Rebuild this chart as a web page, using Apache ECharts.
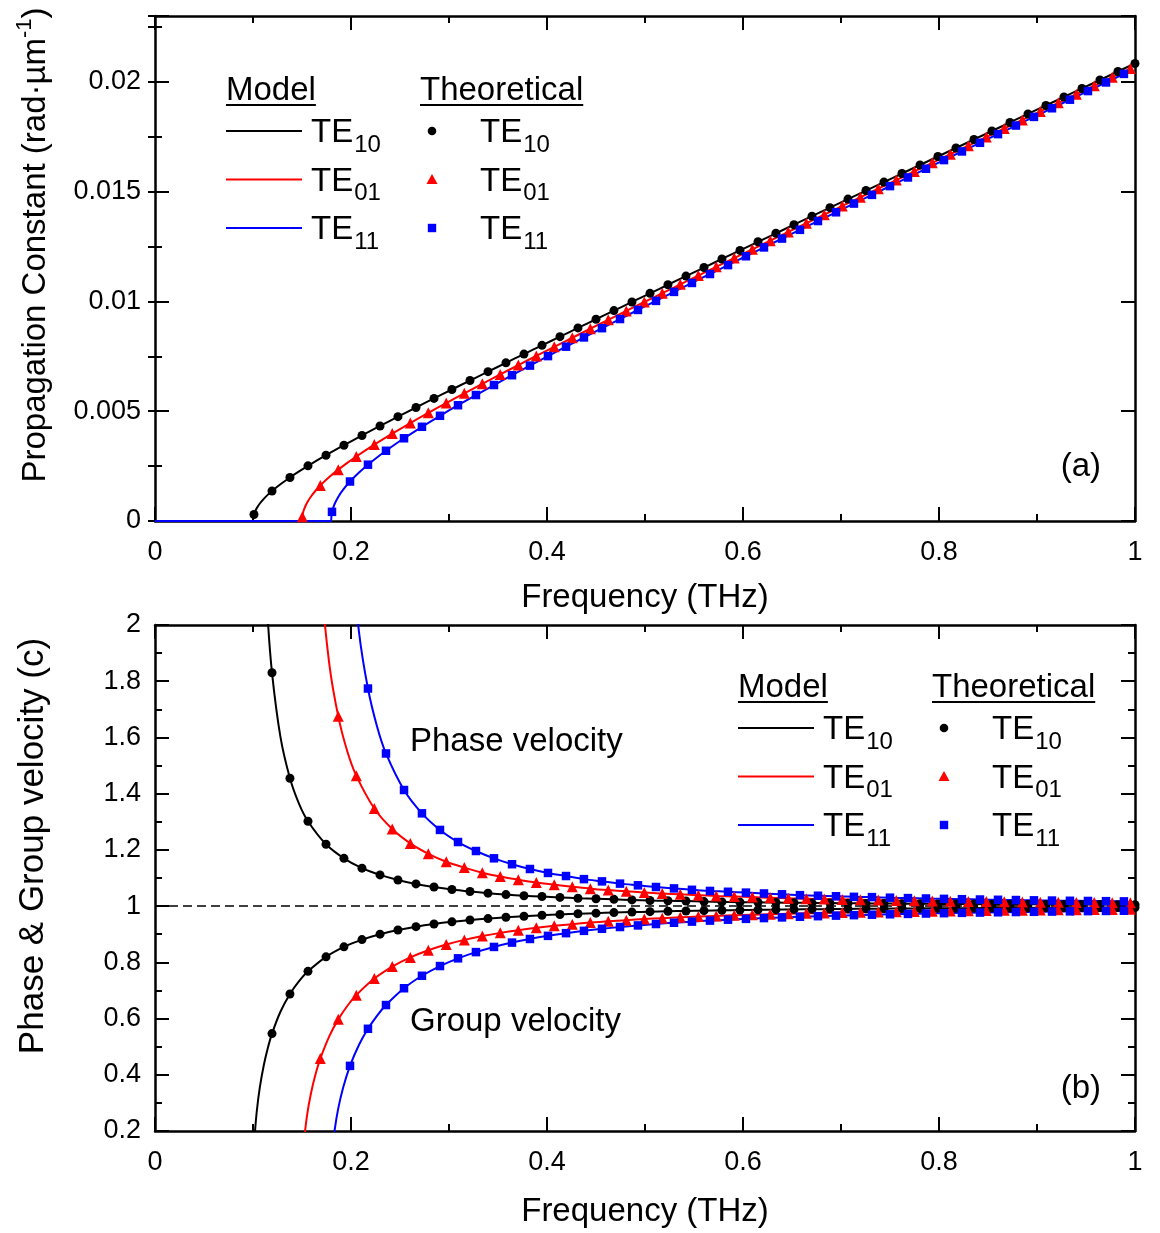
<!DOCTYPE html>
<html><head><meta charset="utf-8">
<script src="https://cdn.jsdelivr.net/npm/echarts@6/dist/echarts.min.js"></script>
<style>html,body{margin:0;padding:0;background:#fff}#c{width:1160px;height:1233px}</style>
</head><body><div id="c"></div>
<script>
// ---------------- DATA ----------------
// Theoretical points (markers)
const te10Freq = [0.1010,0.1194,0.1377,0.1561,0.1745,0.1928,0.2112,0.2296,0.2479,0.2663,0.2847,0.3030,0.3214,0.3398,0.3581,0.3765,0.3949,0.4132,0.4316,0.4500,0.4683,0.4867,0.5051,0.5234,0.5418,0.5602,0.5785,0.5969,0.6153,0.6336,0.6520,0.6704,0.6887,0.7071,0.7255,0.7438,0.7622,0.7806,0.7989,0.8173,0.8357,0.8540,0.8724,0.8908,0.9091,0.9275,0.9459,0.9642,0.9826,1.0000];
const te10Beta = [0.000297,0.001366,0.001983,0.002511,0.002995,0.003452,0.003896,0.004329,0.004751,0.005169,0.005583,0.005990,0.006397,0.006802,0.007202,0.007602,0.008001,0.008397,0.008793,0.009189,0.009582,0.009976,0.010369,0.010760,0.011153,0.011544,0.011934,0.012325,0.012716,0.013104,0.013494,0.013884,0.014271,0.014661,0.015050,0.015437,0.015826,0.016214,0.016601,0.016989,0.017377,0.017763,0.018151,0.018539,0.018925,0.019312,0.019700,0.020085,0.020473,0.020839];
const te10Vp = [7.12,1.830,1.455,1.302,1.220,1.170,1.135,1.111,1.093,1.079,1.068,1.059,1.052,1.046,1.041,1.037,1.034,1.031,1.028,1.026,1.024,1.022,1.020,1.019,1.018,1.016,1.015,1.014,1.0135,1.0127,1.0120,1.0113,1.0107,1.0102,1.0096,1.0092,1.0087,1.0083,1.0079,1.0076,1.0072,1.0069,1.0066,1.0064,1.0061,1.0059,1.0056,1.0054,1.0052,1.0050];
const te10Vg = [0.1404,0.5464,0.6875,0.7679,0.8195,0.8550,0.8808,0.9002,0.9150,0.9268,0.9363,0.9440,0.9504,0.9557,0.9602,0.9641,0.9674,0.9703,0.9728,0.9750,0.9769,0.9787,0.9802,0.9816,0.9828,0.9839,0.9850,0.9859,0.9867,0.9875,0.9882,0.9888,0.9894,0.9900,0.9905,0.9909,0.9914,0.9918,0.9921,0.9925,0.9928,0.9931,0.9934,0.9937,0.9939,0.9942,0.9944,0.9946,0.9948,0.9950];

const te01Freq = [0.1503,0.1687,0.1870,0.2054,0.2238,0.2421,0.2605,0.2789,0.2972,0.3156,0.3340,0.3523,0.3707,0.3891,0.4074,0.4258,0.4442,0.4625,0.4809,0.4993,0.5176,0.5360,0.5544,0.5727,0.5911,0.6095,0.6278,0.6462,0.6646,0.6829,0.7013,0.7197,0.7380,0.7564,0.7748,0.7931,0.8115,0.8299,0.8482,0.8666,0.8850,0.9033,0.9217,0.9401,0.9584,0.9768,0.9952];
const te01Beta = [0.000199,0.001617,0.002339,0.002939,0.003479,0.003980,0.004461,0.004925,0.005374,0.005816,0.006250,0.006676,0.007100,0.007519,0.007933,0.008346,0.008757,0.009163,0.009570,0.009974,0.010375,0.010777,0.011178,0.011576,0.011975,0.012373,0.012768,0.013164,0.013560,0.013953,0.014348,0.014742,0.015134,0.015527,0.015920,0.016311,0.016703,0.017095,0.017485,0.017876,0.018267,0.018656,0.019047,0.019437,0.019825,0.020216,0.020605];
const te01Vp = [15.84,2.185,1.675,1.464,1.347,1.274,1.223,1.186,1.158,1.137,1.119,1.105,1.094,1.084,1.076,1.069,1.062,1.057,1.053,1.048,1.045,1.042,1.039,1.036,1.034,1.032,1.030,1.028,1.0265,1.0250,1.0237,1.0225,1.0213,1.0203,1.0193,1.0184,1.0175,1.0167,1.0160,1.0153,1.0147,1.0141,1.0135,1.0130,1.0125,1.0120,1.0116];
const te01Vg = [0.0632,0.4576,0.5971,0.6832,0.7422,0.7849,0.8176,0.8431,0.8633,0.8798,0.8935,0.9048,0.9145,0.9227,0.9298,0.9359,0.9413,0.9460,0.9501,0.9538,0.9571,0.9600,0.9627,0.9651,0.9673,0.9692,0.9710,0.9727,0.9742,0.9756,0.9769,0.9780,0.9791,0.9801,0.9811,0.9820,0.9828,0.9835,0.9842,0.9849,0.9855,0.9861,0.9867,0.9872,0.9877,0.9881,0.9886];

const te11Freq = [0.1806,0.1990,0.2173,0.2357,0.2541,0.2724,0.2908,0.3092,0.3275,0.3459,0.3643,0.3826,0.4010,0.4194,0.4377,0.4561,0.4745,0.4928,0.5112,0.5296,0.5479,0.5663,0.5847,0.6030,0.6214,0.6398,0.6581,0.6765,0.6949,0.7132,0.7316,0.7500,0.7683,0.7867,0.8051,0.8234,0.8418,0.8602,0.8785,0.8969,0.9153,0.9336,0.9520,0.9704,0.9887];
const te11Beta = [0.000417,0.001799,0.002565,0.003199,0.003767,0.004291,0.004792,0.005273,0.005737,0.006193,0.006640,0.007077,0.007510,0.007939,0.008361,0.008782,0.009199,0.009612,0.010025,0.010435,0.010842,0.011249,0.011655,0.012057,0.012460,0.012862,0.013261,0.013661,0.014060,0.014457,0.014854,0.015252,0.015646,0.016042,0.016438,0.016831,0.017225,0.017620,0.018011,0.018405,0.018798,0.019188,0.019581,0.019974,0.020363];
const te11Vp = [9.07,2.316,1.774,1.543,1.413,1.330,1.271,1.228,1.196,1.170,1.149,1.132,1.118,1.107,1.096,1.088,1.080,1.074,1.068,1.063,1.058,1.054,1.051,1.048,1.045,1.042,1.039,1.037,1.035,1.033,1.032,1.030,1.0285,1.0271,1.0258,1.0246,1.0235,1.0225,1.0216,1.0206,1.0198,1.0190,1.0183,1.0176,1.0169];
const te11Vg = [0.1102,0.4317,0.5636,0.6481,0.7078,0.7522,0.7868,0.8142,0.8364,0.8548,0.8702,0.8831,0.8942,0.9038,0.9120,0.9193,0.9257,0.9313,0.9363,0.9408,0.9448,0.9484,0.9517,0.9547,0.9574,0.9598,0.9621,0.9642,0.9661,0.9678,0.9694,0.9709,0.9723,0.9736,0.9748,0.9760,0.9770,0.9780,0.9789,0.9798,0.9806,0.9813,0.9821,0.9828,0.9834];

// Extra model-curve samples near cut-off (model lines)
const modelStartFreq = [0];
const modelStartBeta = [0];
const te10LineF    = [0.1000,0.1002,0.1005,0.1020,0.1040,0.1070,0.1110,0.1150,0.1280,0.1470];
const te10LineBeta = [0,0.000133,0.000210,0.000421,0.000598,0.000797,0.001009,0.001189,0.001673,0.002257];
const te10LineVg   = [0,0.0632,0.0996,0.1971,0.2747,0.3558,0.4340,0.4938,0.6242,0.7330];
const te10LineVp   = [null,null,null,5.075,3.641,2.811,2.304,2.025,1.602,1.364];
const te01LineF    = [0.1500,0.1508,0.1520,0.1550,0.1590,0.1640,0.1778,0.1962];
const te01LineBeta = [0,0.000325,0.000515,0.000818,0.001104,0.001389,0.001999,0.002649];
const te01LineVg   = [0,0.1029,0.1617,0.2519,0.3317,0.4043,0.5369,0.6446];
const te01LineVp   = [null,null,6.185,3.969,3.015,2.474,1.863,1.551];
const te11LineF    = [0.1795,0.1801,0.1812,0.1835,0.1870,0.1920,0.2082,0.2265];
const te11LineBeta = [0,0.000308,0.000519,0.000798,0.001098,0.001427,0.002209,0.002893];
const te11LineVg   = [0,0.0816,0.1367,0.2077,0.2804,0.3549,0.5067,0.6099];
const te11LineVp   = [null,null,7.317,4.816,3.567,2.818,1.974,1.640];

// reference line v = c
const unityX = [0, 1];
const unityY = [1, 1];

// labels
const modeNames = [['TE','10'],['TE','01'],['TE','11']];
const xTitle = 'Frequency (THz)';
const yTitleTop = ['Propagation Constant (rad·\u00b5m', '-1', ')'];
const yTitleBottom = 'Phase & Group velocity (c)';

// ---------------- RENDER ----------------
const FONT = '"Liberation Sans", Arial, Helvetica, sans-serif';
const COLORS = ['#000000', '#ff0000', '#0000ff'];
const SYMBOLS = ['circle', 'triangle', 'rect'];
const SYMSIZE = [9, 11, 8.5];

function pairs(fs, ys) {
  const out = [];
  for (let i = 0; i < fs.length; i++) if (ys[i] != null) out.push([fs[i], ys[i]]);
  return out;
}
function lineData(fTh, yTh, fEx, yEx, lead) {
  let d = pairs(fEx, yEx).concat(pairs(fTh, yTh));
  if (lead) d = lead.concat(d);
  d.sort((a, b) => a[0] - b[0]);
  return d;
}
function inRange(d, lo, hi) { return d.filter(p => p[1] >= lo && p[1] <= hi); }

const canvas = document.createElement('canvas');
const ctx = canvas.getContext('2d');
function tw(text, size) { ctx.font = size + 'px ' + FONT; return ctx.measureText(text).width; }

const chart = echarts.init(document.getElementById('c'), null, { renderer: 'canvas' });

const GL = 155, GW = 980;
const grids = [
  { left: GL, top: 16, width: GW, height: 505 },
  { left: GL, top: 625, width: GW, height: 506 }
];

const tickBase = { show: true, inside: true, length: 14, lineStyle: { color: '#000', width: 2 } };
const minorBase = { show: true, splitNumber: 2, length: 7, lineStyle: { color: '#000', width: 2 } };
const lineBase = { show: true, onZero: false, lineStyle: { color: '#000', width: 2.5 } };
const labelBase = { show: true, color: '#000', fontSize: 27, fontFamily: FONT };

function xAx(grid, pos, labels) {
  return {
    type: 'value', gridIndex: grid, position: pos, min: 0, max: 1, interval: 0.2,
    axisLine: lineBase, axisTick: tickBase, minorTick: minorBase, splitLine: { show: false },
    axisLabel: labels ? Object.assign({ margin: 18 }, labelBase) : { show: false }
  };
}
function fmtTop(v) {
  const k = v / 0.005;
  if (Math.abs(k - Math.round(k)) > 1e-6) return '';
  return String(parseFloat(v.toFixed(6)));
}
const xAxes = [xAx(0, 'bottom', true), xAx(0, 'top', false), xAx(1, 'bottom', true), xAx(1, 'top', false)];
const yAxes = [
  { type: 'value', gridIndex: 0, position: 'left', min: 0, max: 0.023, interval: 0.005,
    axisLine: lineBase, axisTick: tickBase, minorTick: { show: false }, splitLine: { show: false },
    axisLabel: Object.assign({ margin: 14, formatter: fmtTop }, labelBase) },
  { type: 'value', gridIndex: 0, position: 'left', min: 0, max: 0.023, interval: 0.0025,
    axisLine: { show: false }, axisTick: Object.assign({}, tickBase, { length: 7 }), minorTick: { show: false },
    splitLine: { show: false }, axisLabel: { show: false } },
  { type: 'value', gridIndex: 0, position: 'right', min: 0, max: 0.023, interval: 0.005,
    axisLine: lineBase, axisTick: tickBase, minorTick: { show: false }, splitLine: { show: false },
    axisLabel: { show: false } },
  { type: 'value', gridIndex: 0, position: 'right', min: 0, max: 0.023, interval: 0.0025,
    axisLine: { show: false }, axisTick: Object.assign({}, tickBase, { length: 7 }), minorTick: { show: false },
    splitLine: { show: false }, axisLabel: { show: false } },
  { type: 'value', gridIndex: 1, position: 'left', min: 0.2, max: 2, interval: 0.2,
    axisLine: lineBase, axisTick: tickBase, minorTick: minorBase, splitLine: { show: false },
    axisLabel: Object.assign({ margin: 14 }, labelBase) },
  { type: 'value', gridIndex: 1, position: 'right', min: 0.2, max: 2, interval: 0.2,
    axisLine: lineBase, axisTick: tickBase, minorTick: minorBase, splitLine: { show: false },
    axisLabel: { show: false } }
];

const modes = [
  { f: te10Freq, b: te10Beta, vp: te10Vp, vg: te10Vg, lf: te10LineF, lb: te10LineBeta, lvp: te10LineVp, lvg: te10LineVg },
  { f: te01Freq, b: te01Beta, vp: te01Vp, vg: te01Vg, lf: te01LineF, lb: te01LineBeta, lvp: te01LineVp, lvg: te01LineVg },
  { f: te11Freq, b: te11Beta, vp: te11Vp, vg: te11Vg, lf: te11LineF, lb: te11LineBeta, lvp: te11LineVp, lvg: te11LineVg }
];

function lineSeries(data, xi, yi, color, z) {
  return { type: 'line', xAxisIndex: xi, yAxisIndex: yi, data: data, showSymbol: false, symbol: 'none',
    smooth: 0.3, clip: true, lineStyle: { color: color, width: 2 }, z: z, silent: true, animation: false };
}
function scatterSeries(data, xi, yi, i) {
  return { type: 'scatter', xAxisIndex: xi, yAxisIndex: yi, data: data, symbol: SYMBOLS[i], symbolSize: SYMSIZE[i],
    itemStyle: { color: COLORS[i], opacity: 1 }, clip: true, z: 5 + i, silent: true, animation: false };
}

const series = [];
// dashed v = c line
series.push({ type: 'line', xAxisIndex: 2, yAxisIndex: 4, data: pairs(unityX, unityY), symbol: 'none',
  lineStyle: { color: '#000', width: 1.5, type: [9, 5] }, z: 1, silent: true, animation: false });

const lead = pairs(modelStartFreq, modelStartBeta);
modes.forEach((m, i) => {
  series.push(lineSeries(lineData(m.f, m.b, m.lf, m.lb, lead), 0, 0, COLORS[i], 2 + i));
  series.push(lineSeries(lineData(m.f, m.vp, m.lf, m.lvp), 2, 4, COLORS[i], 2 + i));
  series.push(lineSeries(lineData(m.f, m.vg, m.lf, m.lvg), 2, 4, COLORS[i], 2 + i));
});
modes.forEach((m, i) => {
  series.push(scatterSeries(inRange(pairs(m.f, m.b), 0, 0.023), 0, 0, i));
  series.push(scatterSeries(inRange(pairs(m.f, m.vp), 0.2, 2), 2, 4, i));
  series.push(scatterSeries(inRange(pairs(m.f, m.vg), 0.2, 2), 2, 4, i));
});

// ---------------- graphic texts / legends ----------------
const G = [];
function txt(x, y, s, size, align, extra) {
  const st = { text: s, font: size + 'px ' + FONT, fill: '#000', textAlign: align || 'left', align: align || 'left',
    textVerticalAlign: 'middle', verticalAlign: 'middle' };
  return Object.assign({ type: 'text', x: x, y: y, silent: true, style: st }, extra || {});
}
function hline(x1, x2, y, color, w) {
  return { type: 'line', silent: true, shape: { x1: x1, y1: y, x2: x2, y2: y }, style: { stroke: color, lineWidth: w } };
}
function marker(i, x, y) {
  if (i === 0) return { type: 'circle', silent: true, shape: { cx: x, cy: y, r: 4.3 }, style: { fill: COLORS[0] } };
  if (i === 1) return { type: 'polygon', silent: true, shape: { points: [[x, y - 5.5], [x + 5.5, y + 4.5], [x - 5.5, y + 4.5]] }, style: { fill: COLORS[1] } };
  return { type: 'rect', silent: true, shape: { x: x - 4.2, y: y - 4.2, width: 8.4, height: 8.4 }, style: { fill: COLORS[2] } };
}
function legend(dx, dy) {
  const BIG = 33, SUB = 24;
  const wM = tw('Model', BIG), wT = tw('Theoretical', BIG), wTE = tw('TE', BIG);
  G.push(txt(226 + dx, 90.5 + dy, 'Model', BIG));
  G.push(hline(226 + dx, 226 + dx + wM, 105 + dy, '#000', 2));
  G.push(txt(420 + dx, 90.5 + dy, 'Theoretical', BIG));
  G.push(hline(420 + dx, 420 + dx + wT, 105 + dy, '#000', 2));
  const rows = [131, 179.5, 228];
  rows.forEach((ry, i) => {
    const y = ry + dy;
    G.push(hline(226 + dx, 302 + dx, y, COLORS[i], 2));
    G.push(txt(311 + dx, y + 2, modeNames[i][0], BIG));
    G.push(txt(311 + dx + wTE + 1, y + 14, modeNames[i][1], SUB));
    G.push(marker(i, 432 + dx, y));
    G.push(txt(480 + dx, y + 2, modeNames[i][0], BIG));
    G.push(txt(480 + dx + wTE + 1, y + 14, modeNames[i][1], SUB));
  });
}
legend(0, 0);
legend(512, 597);

G.push(txt(1101, 467, '(a)', 33, 'right'));
G.push(txt(1101, 1089, '(b)', 33, 'right'));
G.push(txt(410, 742, 'Phase velocity', 33));
G.push(txt(410, 1022, 'Group velocity', 33));
G.push(txt(GL + GW / 2, 598, xTitle, 33, 'center'));
G.push(txt(GL + GW / 2, 1212, xTitle, 33, 'center'));

// rotated y titles
(function () {
  const w1 = tw(yTitleTop[0], 33), w2 = tw(yTitleTop[1], 22), w3 = tw(yTitleTop[2], 33);
  const W = w1 + w2 + w3;
  G.push({ type: 'group', x: 36, y: 245, rotation: Math.PI / 2, silent: true, children: [
    txt(-W / 2, 0, yTitleTop[0], 33, 'left'),
    txt(-W / 2 + w1, -11, yTitleTop[1], 22, 'left'),
    txt(-W / 2 + w1 + w2, 0, yTitleTop[2], 33, 'left')
  ]});
  G.push({ type: 'group', x: 33, y: 846, rotation: Math.PI / 2, silent: true, children: [
    txt(0, 0, yTitleBottom, 35, 'center')
  ]});
})();

chart.setOption({
  animation: false,
  backgroundColor: '#ffffff',
  grid: grids,
  xAxis: xAxes,
  yAxis: yAxes,
  series: series,
  graphic: { elements: G }
});
</script>
</body></html>
